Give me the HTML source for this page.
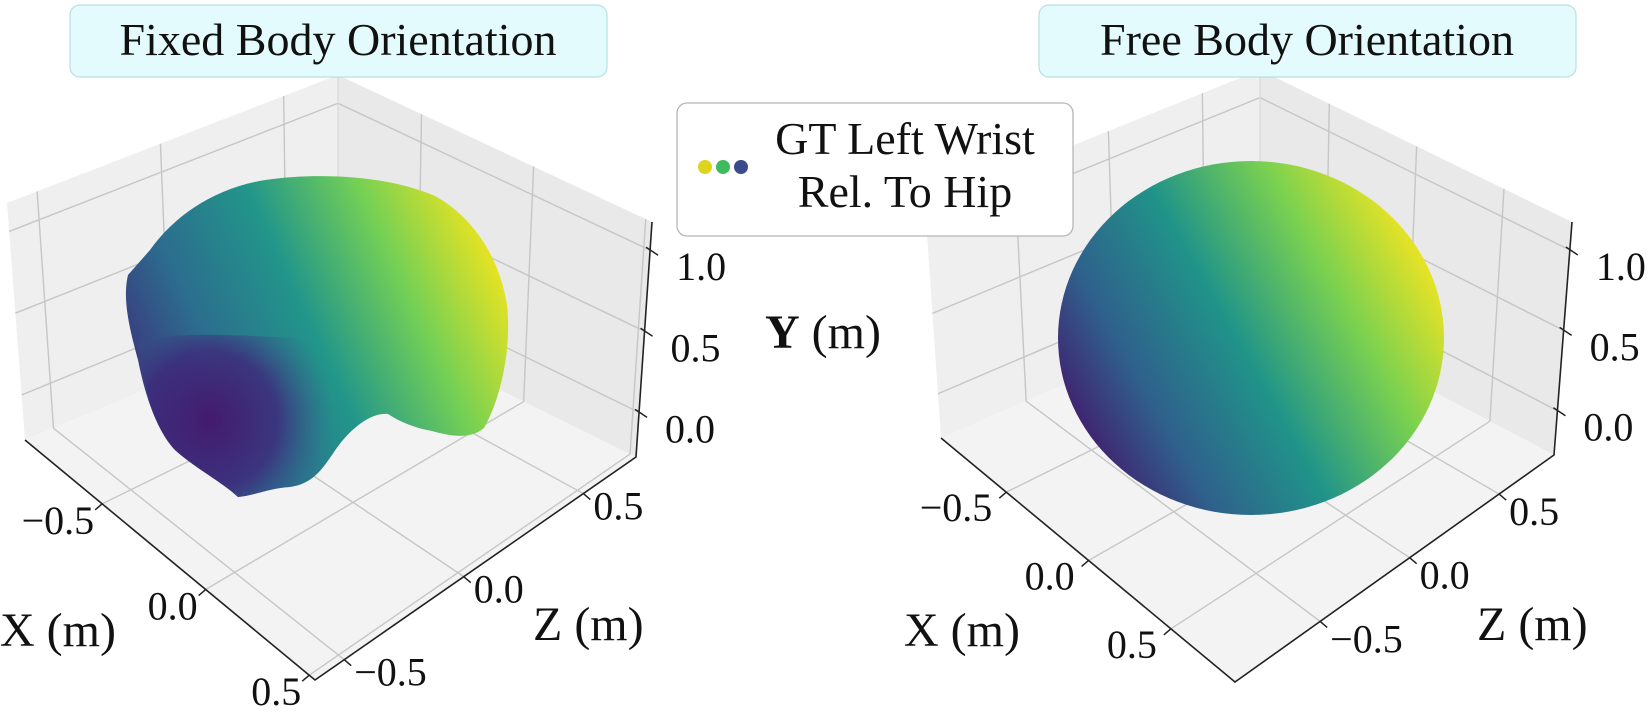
<!DOCTYPE html>
<html><head><meta charset="utf-8"><style>
html,body{margin:0;padding:0;background:#fff}
svg{display:block}
text{font-family:"Liberation Serif","DejaVu Serif",serif;fill:#111}
</style></head><body>
<svg id="fig" width="1649" height="712" viewBox="0 0 1649 712" xmlns="http://www.w3.org/2000/svg">
<defs>
<linearGradient id="gLeft" x1="130" y1="420" x2="500" y2="250" gradientUnits="userSpaceOnUse">
<stop offset="0" stop-color="#3f2a7a"/><stop offset="0.25" stop-color="#2c6d8e"/><stop offset="0.5" stop-color="#22968a"/><stop offset="0.75" stop-color="#74d055"/><stop offset="1" stop-color="#f2e51d"/>
</linearGradient>
<radialGradient id="gLeftDark" cx="210" cy="420" r="125" gradientUnits="userSpaceOnUse">
<stop offset="0" stop-color="#441a6e" stop-opacity="1"/><stop offset="0.55" stop-color="#3d2c7c" stop-opacity="0.85"/><stop offset="1" stop-color="#31658d" stop-opacity="0"/>
</radialGradient>
<linearGradient id="gRight" x1="1075" y1="450" x2="1430" y2="250" gradientUnits="userSpaceOnUse">
<stop offset="0" stop-color="#44166b"/><stop offset="0.22" stop-color="#2f608c"/><stop offset="0.48" stop-color="#209489"/><stop offset="0.75" stop-color="#7ad150"/><stop offset="1" stop-color="#f4e520"/>
</linearGradient>
</defs>
<g id="left"></g>
<g id="right"></g>

<g>
<rect x="70" y="5" width="537" height="72" rx="10" fill="#e4fbfd" stroke="#b9dfe3" stroke-width="1.2"/>
<text x="338" y="55" font-size="46" text-anchor="middle">Fixed Body Orientation</text>
</g>
<g>
<rect x="1039" y="5" width="537" height="72" rx="10" fill="#e4fbfd" stroke="#b9dfe3" stroke-width="1.2"/>
<text x="1307" y="55" font-size="46" text-anchor="middle">Free Body Orientation</text>
</g>
<g>
<rect x="677" y="103" width="396" height="133" rx="10" fill="#fff" stroke="#b5b5b5" stroke-width="1.3"/>
<circle cx="705" cy="167" r="7" fill="#dcd51c"/>
<circle cx="723" cy="167" r="7" fill="#3dbb5e"/>
<circle cx="741" cy="167" r="7" fill="#3a4a8c"/>
<text x="905" y="154" font-size="46" text-anchor="middle">GT Left Wrist</text>
<text x="905" y="207" font-size="46" text-anchor="middle">Rel. To Hip</text>
</g>
<text x="765" y="348" font-size="48"><tspan font-weight="bold">Y</tspan> (m)</text>
</svg>
<script>
const xTicks=[-0.5,0.0,0.5];
const zTicks=[-0.5,0.0,0.5];
const yTicks=[0.0,0.5,1.0];
const xTickLabels=["\u22120.5","0.0","0.5"];
const zTickLabels=["\u22120.5","0.0","0.5"];
const yTickLabels=["0.0","0.5","1.0"];

const NS="http://www.w3.org/2000/svg";
function mk(tag,attrs,parent){const e=document.createElementNS(NS,tag);for(const k in attrs)e.setAttribute(k,attrs[k]);parent.appendChild(e);return e;}
function lerp(a,b,t){return [a[0]+(b[0]-a[0])*t,a[1]+(b[1]-a[1])*t];}
function pts(a){return a.map(p=>p.join(',')).join(' ');}

function drawPanel(g,P){
  const L=P.L,F=P.F,R=P.R,B=P.B,Lt=P.Lt,Bt=P.Bt,Rt=P.Rt;
  const xf=v=>P.xa+P.xb*v, zf=v=>P.za+P.zb*v, yf=v=>P.ya+P.yb*v;
  let e;
  e=mk('polygon',{points:pts([L,B,Bt,Lt]),fill:'#efefef'},g);
  
  
  e=mk('polygon',{points:pts([B,R,Rt,Bt]),fill:'#e9e9e9'},g);
  
  
  e=mk('polygon',{points:pts([L,F,R,B]),fill:'#f3f3f3'},g);
  
  
  const gs={stroke:'#c6c6c6','stroke-width':1.4,fill:'none'};
  xTicks.forEach(v=>{const t=xf(v);const a=lerp(L,F,t),b=lerp(B,R,t);
    e=mk('line',Object.assign({x1:a[0],y1:a[1],x2:b[0],y2:b[1]},gs),g);
    
    
    const c=lerp(Bt,Rt,t);
    e=mk('line',Object.assign({x1:b[0],y1:b[1],x2:c[0],y2:c[1]},gs),g);
    
    });
  zTicks.forEach(v=>{const s=zf(v);const a=lerp(F,R,s),b=lerp(L,B,s);
    e=mk('line',Object.assign({x1:a[0],y1:a[1],x2:b[0],y2:b[1]},gs),g);
    
    
    const c=lerp(Lt,Bt,s);
    e=mk('line',Object.assign({x1:b[0],y1:b[1],x2:c[0],y2:c[1]},gs),g);
    
    });
  yTicks.forEach(v=>{const u=yf(v);const a=lerp(L,Lt,u),b=lerp(B,Bt,u),c=lerp(R,Rt,u);
    e=mk('polyline',Object.assign({points:pts([a,b,c])},gs),g);
    
    });
  e=mk('line',{x1:B[0],y1:B[1],x2:Bt[0],y2:Bt[1],stroke:'#dadada','stroke-width':1.2},g);
  
  
  P.blob(g);
  const as={stroke:'#222','stroke-width':1.6,fill:'none'};
  e=mk('polyline',Object.assign({points:pts([L,F,R,Rt])},as),g);
  
  
  xTicks.forEach((v,i)=>{const p=lerp(L,F,xf(v));
    e=mk('line',{x1:p[0],y1:p[1],x2:p[0]-7,y2:p[1]+6,stroke:'#222','stroke-width':1.5},g);
    
    
    e=mk('text',{x:p[0]+P.xo[0],y:p[1]+P.xo[1],'font-size':40,'text-anchor':'end'},g);
    e.textContent=xTickLabels[i];
    
    });
  zTicks.forEach((v,i)=>{const p=lerp(F,R,zf(v));
    e=mk('line',{x1:p[0],y1:p[1],x2:p[0]+7,y2:p[1]+6,stroke:'#222','stroke-width':1.5},g);
    
    
    e=mk('text',{x:p[0]+P.zo[0],y:p[1]+P.zo[1],'font-size':40,'text-anchor':'start'},g);
    e.textContent=zTickLabels[i];
    
    });
  yTicks.forEach((v,i)=>{const p=lerp(R,Rt,yf(v));
    e=mk('line',{x1:p[0]-4,y1:p[1]-3,x2:p[0]+8,y2:p[1]+5,stroke:'#222','stroke-width':1.5},g);
    
    
    e=mk('text',{x:p[0]+P.yo[0],y:p[1]+P.yo[1],'font-size':40,'text-anchor':'start'},g);
    e.textContent=yTickLabels[i];
    
    });
  e=mk('text',{x:P.xl[0],y:P.xl[1],'font-size':48},g);
  e.textContent='X (m)';
  
  
  e=mk('text',{x:P.zl[0],y:P.zl[1],'font-size':48},g);
  e.textContent='Z (m)';
  
  
}

drawPanel(document.getElementById('left'),{
  L:[25,440],F:[315,680],R:[636,457],B:[338,310],Lt:[7,203],Bt:[338,75],Rt:[652,222],
  xa:0.623,xb:0.714,za:0.4635,zb:0.745,ya:0.19,yb:0.69,
  xo:[-8,30],zo:[10,26],yo:[26,30],xl:[0,646],zl:[533,640],
  blob:function(g){
    let e=mk('path',{d:'M150,250 C175,215 215,188 265,180 C320,172 390,176 435,196 C475,218 500,260 507,305 C512,350 500,400 484,428 C470,440 450,436 432,431 C415,428 400,422 388,414 C372,412 350,428 334,452 C322,470 312,484 290,487 C270,488 252,496 238,497 C222,482 195,468 175,450 C158,432 146,400 138,360 C130,330 122,300 128,275 Z',fill:'url(#gLeft)'},g);
    
    
    e=mk('path',{d:'M138,345 C165,330 225,335 300,338 C340,342 372,362 390,414 C372,412 350,428 334,452 C322,470 312,484 290,487 C270,488 252,496 238,497 C222,482 195,468 175,450 C158,432 146,400 138,345 Z',fill:'url(#gLeftDark)'},g);
    
    
  }
});
drawPanel(document.getElementById('right'),{
  L:[941,438],F:[1235,682],R:[1554,455],B:[1260,300],Lt:[925,205],Bt:[1260,70],Rt:[1572,222],
  xa:0.502,xb:0.56,za:0.5475,zb:0.561,ya:0.19,yb:0.69,
  xo:[-14,29],zo:[10,31],yo:[26,30],xl:[904,646],zl:[1477,640],
  blob:function(g){
    let e=mk('ellipse',{cx:1251,cy:338,rx:193,ry:177,fill:'url(#gRight)'},g);
    
    
  }
});
</script>
</body></html>
